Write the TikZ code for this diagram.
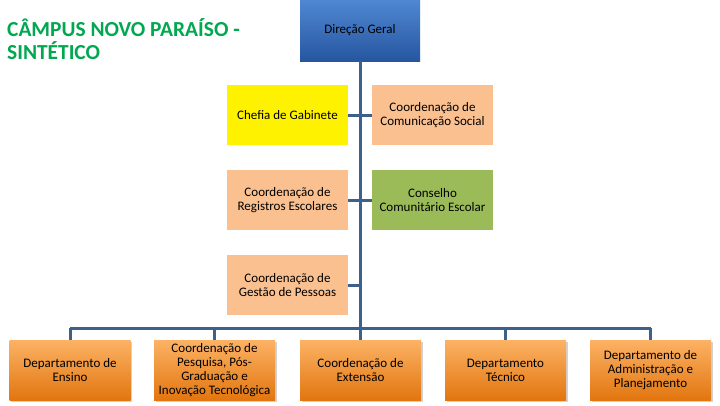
\documentclass[tikz,border=0pt]{standalone}
\usepackage{fontspec}
\setmainfont{Carlito}
\usetikzlibrary{shadows,positioning}
\definecolor{linec}{RGB}{62,96,140}
\definecolor{peach}{RGB}{250,192,144}
\definecolor{greenbox}{RGB}{155,187,89}
\definecolor{titlegreen}{RGB}{0,168,80}
\definecolor{dgtop}{RGB}{80,135,210}
\definecolor{dgbot}{RGB}{38,86,160}
\definecolor{ortop}{RGB}{252,178,100}
\definecolor{orbot}{RGB}{226,118,16}
\tikzset{
  box/.style={minimum width=121pt,minimum height=60pt,inner sep=1pt,align=center,font=\fontsize{13}{14}\selectfont,text=black},
  topbox/.style={box,minimum width=120pt,minimum height=61pt,top color=dgtop,bottom color=dgbot,font=\fontsize{13}{14}\selectfont},
  peachbox/.style={box,fill=peach},
  bottombox/.style={box,top color=ortop,bottom color=orbot,drop shadow={opacity=0.35,shadow xshift=1.5pt,shadow yshift=-1.5pt}},
  conn/.style={draw=linec,line width=3pt},
}
\begin{document}
\begin{tikzpicture}[x=1pt,y=-1pt]
\useasboundingbox[fill=white] (0,0) rectangle (720,405);
\node[anchor=north west,align=left,font=\fontsize{21.4}{23}\selectfont\bfseries,text=titlegreen,inner sep=0pt] (title) at (7,18) {CÂMPUS NOVO PARAÍSO -\\SINTÉTICO};
\node[topbox] (dg) at (360,30.5) {Direção Geral};
\node[box,fill=yellow] (chefia) at (287.5,115) {Chefia de Gabinete};
\node[peachbox] (com) at (432.5,115) {Coordenação de\\Comunicação Social};
\node[peachbox] (reg) at (287.5,200) {Coordenação de\\Registros Escolares};
\node[box,fill=greenbox] (cons) at (432.5,200) {Conselho\\Comunitário Escolar};
\node[peachbox] (gest) at (287.5,285) {Coordenação de\\Gestão de Pessoas};
\node[bottombox] (ens) at (70,370) {Departamento de\\Ensino};
\node[bottombox] (pesq) at (214.5,370) {Coordenação de\\Pesquisa, Pós-\\Graduação e\\Inovação Tecnológica};
\node[bottombox] (ext) at (360.5,370) {Coordenação de\\Extensão};
\node[bottombox] (tec) at (505.5,370) {Departamento\\Técnico};
\node[bottombox] (adm) at (650.5,370) {Departamento de\\Administração e\\Planejamento};
\coordinate (bus) at (360,328);
\coordinate (busl) at (70,328);
\coordinate (busr) at (650.5,328);
\path[conn] (dg.south) -- (bus);
\path[conn] (busl) -- (busr);
\path[conn] (chefia.east) -- (chefia.east -| dg.south);
\path[conn] (com.west) -- (com.west -| dg.south);
\path[conn] (reg.east) -- (reg.east -| dg.south);
\path[conn] (cons.west) -- (cons.west -| dg.south);
\path[conn] (gest.east) -- (gest.east -| dg.south);
\path[conn] (busl) -- (ens.north);
\path[conn] (pesq.north |- bus) -- (pesq.north);
\path[conn] (ext.north |- bus) -- (ext.north);
\path[conn] (tec.north |- bus) -- (tec.north);
\path[conn] (busr) -- (adm.north);
\end{tikzpicture}
\end{document}
